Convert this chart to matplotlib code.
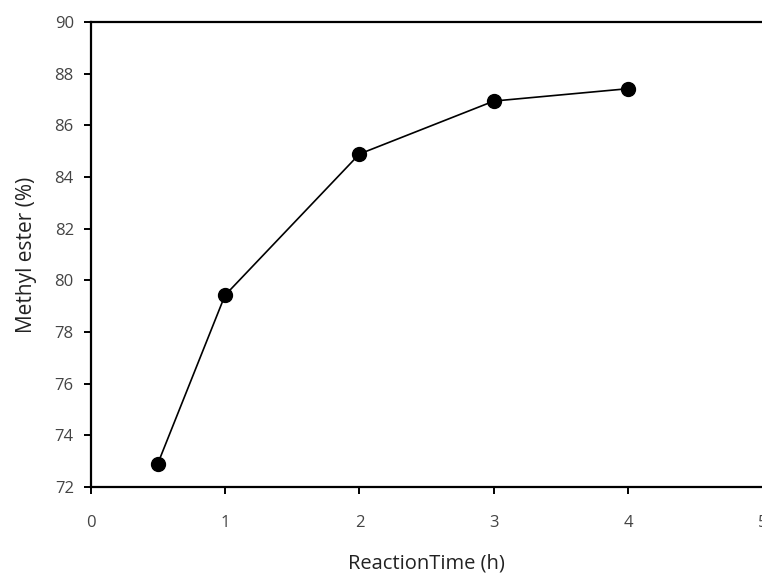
import matplotlib
matplotlib.use("Agg")
from matplotlib import pyplot as plt

# reaction time (h) vs methyl ester yield (%)
reaction_time = [0.5, 1, 2, 3, 4]
methyl_ester = [72.90, 79.42, 84.89, 86.94, 87.42]

x_ticks = [0, 1, 2, 3, 4, 5]
y_ticks = [72, 74, 76, 78, 80, 82, 84, 86, 88, 90]

plt.rcParams['font.family'] = ['Open Sans', 'DejaVu Sans']

fig = plt.figure(figsize=(7.62, 5.76), dpi=100)
ax = fig.add_axes([0.1188, 0.1545, 0.8823, 0.8073])

ax.plot(reaction_time, methyl_ester, color='black', linewidth=1.2,
        marker='o', markersize=10, markerfacecolor='black', markeredgecolor='black')

ax.set_xlim(0, 5)
ax.set_ylim(72, 90)
ax.set_xticks(x_ticks)
ax.set_yticks(y_ticks)

for side in ['left', 'bottom', 'top']:
    ax.spines[side].set_linewidth(1.6)
ax.spines['right'].set_visible(False)
ax.tick_params(axis='both', direction='out', length=5, width=1.4,
               labelsize=12, labelcolor='#444444')
ax.tick_params(axis='x', pad=15)
ax.tick_params(axis='y', pad=7)
ax.tick_params(top=False, right=False)

ax.set_xlabel("ReactionTime (h)", fontsize=14.5, color='#222222', labelpad=16)
ax.set_ylabel("Methyl ester (%)", fontsize=15, color='#222222', labelpad=13)

plt.savefig("out.png", dpi=100)
plt.close()
